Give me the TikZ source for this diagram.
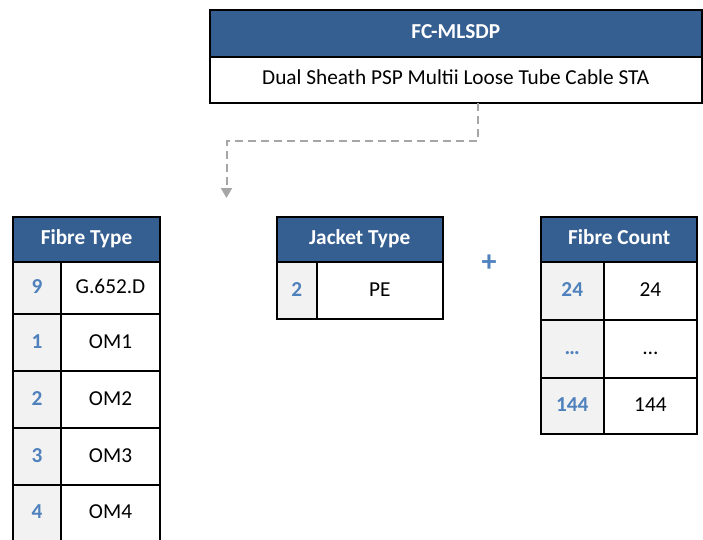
\documentclass[tikz,border=0pt]{standalone}
\usepackage{fontspec}
\setmainfont{Carlito}
\usetikzlibrary{arrows.meta}
\definecolor{hdr}{HTML}{365F91}
\definecolor{numblue}{HTML}{4F81BD}
\definecolor{numfill}{HTML}{F2F2F2}
\definecolor{arrgray}{HTML}{A6A6A6}
\tikzset{
  base/.style={draw=black, line width=2pt, inner sep=0pt, outer sep=0pt, anchor=north west,
    font=\fontsize{21.3}{25}\selectfont, text height=1.2em, text depth=0.07em},
  hdrbox/.style={base, fill=hdr, text=white, font=\fontsize{21.3}{25}\selectfont\bfseries, text height=1.08em, text depth=0.1em},
  numbox/.style={base, fill=numfill, text=numblue, font=\fontsize{21.3}{25}\selectfont\bfseries},
  valbox/.style={base, fill=white, text=black},
  arrline/.style={draw=arrgray, line width=2pt, dash pattern=on 8pt off 5pt,
    -{Triangle[width=11pt,length=10pt]}},
}
\begin{document}
\begin{tikzpicture}[x=1pt,y=-1pt]
\useasboundingbox (0,0) rectangle (703,539);
% top
\node[hdrbox, minimum width=491.5pt, minimum height=47.5pt] (tophdr) at (210,9.5) {FC-MLSDP};
\node[valbox, minimum width=491.5pt, minimum height=46pt, text height=1.0em, text depth=0.1em] (topbody) at (210,57) {Dual Sheath PSP Multii Loose Tube Cable STA};
% Fibre Type
\node[hdrbox, minimum width=147pt, minimum height=45pt] (fth) at (13,216.7) {Fibre Type};
\node[numbox, minimum width=48pt, minimum height=52.3pt] (ftn1) at (13,261.7) {9};
\node[valbox, minimum width=99pt, minimum height=52.3pt] (ftv1) at (61,261.7) {G.652.D};
\node[numbox, minimum width=48pt, minimum height=57pt] (ftn2) at (13,314) {1};
\node[valbox, minimum width=99pt, minimum height=57pt] (ftv2) at (61,314) {OM1};
\node[numbox, minimum width=48pt, minimum height=57pt] (ftn3) at (13,371) {2};
\node[valbox, minimum width=99pt, minimum height=57pt] (ftv3) at (61,371) {OM2};
\node[numbox, minimum width=48pt, minimum height=56.7pt] (ftn4) at (13,428) {3};
\node[valbox, minimum width=99pt, minimum height=56.7pt] (ftv4) at (61,428) {OM3};
\node[numbox, minimum width=48pt, minimum height=57pt] (ftn5) at (13,484.7) {4};
\node[valbox, minimum width=99pt, minimum height=57pt] (ftv5) at (61,484.7) {OM4};
% Jacket Type
\node[hdrbox, minimum width=166pt, minimum height=45pt] (jth) at (276.7,216.7) {Jacket Type};
\node[numbox, minimum width=40pt, minimum height=57.6pt] (jtn1) at (276.7,261.7) {2};
\node[valbox, minimum width=126pt, minimum height=57.6pt] (jtv1) at (316.7,261.7) {PE};
% plus
\node[text=numblue, font=\fontsize{30}{32}\selectfont\bfseries, inner sep=0pt] (plus) at (489,263.5) {+};
% Fibre Count
\node[hdrbox, minimum width=156.3pt, minimum height=45pt] (fch) at (541,216.7) {Fibre Count};
\node[numbox, minimum width=62.5pt, minimum height=58.3pt] (fcn1) at (541,261.7) {24};
\node[valbox, minimum width=93.8pt, minimum height=58.3pt] (fcv1) at (603.5,261.7) {24};
\node[numbox, minimum width=62.5pt, minimum height=57.7pt] (fcn2) at (541,320) {\dots};
\node[valbox, minimum width=93.8pt, minimum height=57.7pt] (fcv2) at (603.5,320) {\dots};
\node[numbox, minimum width=62.5pt, minimum height=56.6pt] (fcn3) at (541,377.7) {144};
\node[valbox, minimum width=93.8pt, minimum height=56.6pt] (fcv3) at (603.5,377.7) {144};
% arrow
\coordinate (tip) at (226.5,198);
\draw[arrline] ([xshift=22.25pt]topbody.south) -- ++(0,37.7) -| (tip);
\end{tikzpicture}
\end{document}
